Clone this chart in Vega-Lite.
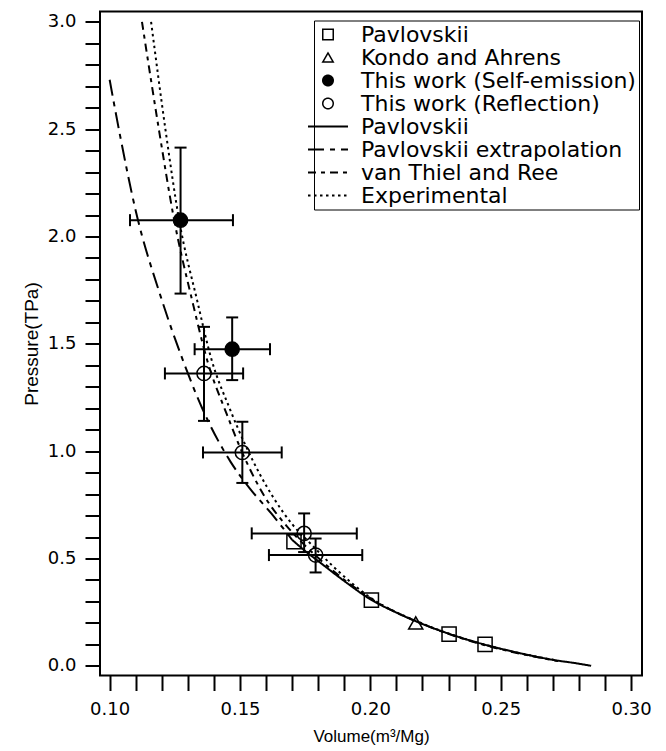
{
  "$schema": "https://vega.github.io/schema/vega-lite/v6.json",
  "width": 542,
  "height": 664,
  "autosize": {"type": "none"},
  "padding": {"left": 100, "top": 11.5, "right": 24, "bottom": 75.5},
  "background": "white",
  "config": {"view": {"stroke": "black", "strokeWidth": 2}, "font": "DejaVu Sans"},
  "datasets": {
    "points": [
      {"series": "Pavlovskii (data)", "x": 0.1707, "y": 0.578},
      {"series": "Pavlovskii (data)", "x": 0.2004, "y": 0.306},
      {"series": "Pavlovskii (data)", "x": 0.2302, "y": 0.148},
      {"series": "Pavlovskii (data)", "x": 0.2440, "y": 0.100},
      {"series": "Kondo and Ahrens", "x": 0.2174, "y": 0.200},
      {"series": "This work (Self-emission)", "x": 0.1272, "y": 2.076},
      {"series": "This work (Self-emission)", "x": 0.1470, "y": 1.475},
      {"series": "This work (Reflection)", "x": 0.1362, "y": 1.362},
      {"series": "This work (Reflection)", "x": 0.1509, "y": 0.994},
      {"series": "This work (Reflection)", "x": 0.1746, "y": 0.617},
      {"series": "This work (Reflection)", "x": 0.1790, "y": 0.516}
    ],
    "errors": [
      {"x": 0.1272, "y": 2.076, "xlo": 0.1078, "xhi": 0.1473, "ylo": 1.734, "yhi": 2.414},
      {"x": 0.1470, "y": 1.475, "xlo": 0.1326, "xhi": 0.1615, "ylo": 1.331, "yhi": 1.623},
      {"x": 0.1362, "y": 1.362, "xlo": 0.1212, "xhi": 0.1512, "ylo": 1.141, "yhi": 1.579},
      {"x": 0.1509, "y": 0.994, "xlo": 0.1358, "xhi": 0.1660, "ylo": 0.852, "yhi": 1.137},
      {"x": 0.1746, "y": 0.617, "xlo": 0.1545, "xhi": 0.1948, "ylo": 0.530, "yhi": 0.710},
      {"x": 0.1790, "y": 0.516, "xlo": 0.1611, "xhi": 0.1969, "ylo": 0.435, "yhi": 0.593}
    ],
    "lines": [
      {"series": "Pavlovskii", "x": 0.170, "y": 0.587},
      {"series": "Pavlovskii", "x": 0.175, "y": 0.535},
      {"series": "Pavlovskii", "x": 0.180, "y": 0.488},
      {"series": "Pavlovskii", "x": 0.190, "y": 0.395},
      {"series": "Pavlovskii", "x": 0.200, "y": 0.310},
      {"series": "Pavlovskii", "x": 0.210, "y": 0.248},
      {"series": "Pavlovskii", "x": 0.220, "y": 0.195},
      {"series": "Pavlovskii", "x": 0.230, "y": 0.150},
      {"series": "Pavlovskii", "x": 0.240, "y": 0.112},
      {"series": "Pavlovskii", "x": 0.250, "y": 0.080},
      {"series": "Pavlovskii", "x": 0.260, "y": 0.052},
      {"series": "Pavlovskii", "x": 0.270, "y": 0.028},
      {"series": "Pavlovskii", "x": 0.280, "y": 0.010},
      {"series": "Pavlovskii", "x": 0.2847, "y": 0.000},
      {"series": "Pavlovskii extrapolation", "x": 0.100, "y": 2.73},
      {"series": "Pavlovskii extrapolation", "x": 0.104, "y": 2.47},
      {"series": "Pavlovskii extrapolation", "x": 0.110, "y": 2.12},
      {"series": "Pavlovskii extrapolation", "x": 0.1196, "y": 1.72},
      {"series": "Pavlovskii extrapolation", "x": 0.1279, "y": 1.43},
      {"series": "Pavlovskii extrapolation", "x": 0.1355, "y": 1.20},
      {"series": "Pavlovskii extrapolation", "x": 0.1464, "y": 0.95},
      {"series": "Pavlovskii extrapolation", "x": 0.1535, "y": 0.83},
      {"series": "Pavlovskii extrapolation", "x": 0.162, "y": 0.71},
      {"series": "Pavlovskii extrapolation", "x": 0.170, "y": 0.587},
      {"series": "van Thiel and Ree", "x": 0.1124, "y": 3.0},
      {"series": "van Thiel and Ree", "x": 0.119, "y": 2.49},
      {"series": "van Thiel and Ree", "x": 0.1247, "y": 2.08},
      {"series": "van Thiel and Ree", "x": 0.1317, "y": 1.70},
      {"series": "van Thiel and Ree", "x": 0.1375, "y": 1.42},
      {"series": "van Thiel and Ree", "x": 0.145, "y": 1.17},
      {"series": "van Thiel and Ree", "x": 0.151, "y": 0.99},
      {"series": "van Thiel and Ree", "x": 0.1599, "y": 0.78},
      {"series": "van Thiel and Ree", "x": 0.168, "y": 0.65},
      {"series": "van Thiel and Ree", "x": 0.175, "y": 0.56},
      {"series": "van Thiel and Ree", "x": 0.185, "y": 0.45},
      {"series": "van Thiel and Ree", "x": 0.200, "y": 0.315},
      {"series": "van Thiel and Ree", "x": 0.220, "y": 0.195},
      {"series": "van Thiel and Ree", "x": 0.240, "y": 0.110},
      {"series": "van Thiel and Ree", "x": 0.260, "y": 0.050},
      {"series": "van Thiel and Ree", "x": 0.272, "y": 0.022},
      {"series": "Experimental", "x": 0.1159, "y": 3.0},
      {"series": "Experimental", "x": 0.1215, "y": 2.49},
      {"series": "Experimental", "x": 0.1266, "y": 2.08},
      {"series": "Experimental", "x": 0.1336, "y": 1.70},
      {"series": "Experimental", "x": 0.139, "y": 1.43},
      {"series": "Experimental", "x": 0.146, "y": 1.20},
      {"series": "Experimental", "x": 0.152, "y": 1.03},
      {"series": "Experimental", "x": 0.163, "y": 0.78},
      {"series": "Experimental", "x": 0.170, "y": 0.66},
      {"series": "Experimental", "x": 0.177, "y": 0.57},
      {"series": "Experimental", "x": 0.186, "y": 0.46},
      {"series": "Experimental", "x": 0.200, "y": 0.318},
      {"series": "Experimental", "x": 0.220, "y": 0.197},
      {"series": "Experimental", "x": 0.240, "y": 0.112},
      {"series": "Experimental", "x": 0.260, "y": 0.052},
      {"series": "Experimental", "x": 0.272, "y": 0.024}
    ]
  },
  "layer": [
    {
      "data": {"name": "lines"},
      "mark": {"type": "line", "strokeWidth": 2, "clip": true, "interpolate": "monotone", "color": "black"},
      "encoding": {
        "x": {"field": "x", "type": "quantitative",
          "scale": {"domain": [0.0963, 0.3042], "nice": false, "zero": false},
          "axis": {"orient": "bottom", "tickCount": 200, "values": [0.1,0.11,0.12,0.13,0.14,0.15,0.16,0.17,0.18,0.19,0.2,0.21,0.22,0.23,0.24,0.25,0.26,0.27,0.28,0.29,0.3],
            "format": ".2f", "labelExpr": "indexof(['0.10','0.15','0.20','0.25','0.30'], datum.label) >= 0 ? datum.label : ''",
            "labelOverlap": false, "labelFlush": false, "grid": false, "domain": false,
            "tickSize": 15, "tickWidth": 2, "tickColor": "black",
            "labelFont": "DejaVu Sans", "labelFontSize": 18, "labelColor": "black", "labelPadding": 10,
            "title": "Volume(m³/Mg)", "titleFont": "Liberation Sans", "titleFontSize": 17, "titleFontWeight": "normal", "titleColor": "black", "titlePadding": 10,
            "encode": {"ticks": {"update": {"y2": {"signal": "indexof([0.1,0.15,0.2,0.25,0.3], datum.value) >= 0 ? 15 : 8"}}}}}},
        "y": {"field": "y", "type": "quantitative",
          "scale": {"domain": [-0.045, 3.048], "nice": false, "zero": false},
          "axis": {"orient": "left", "tickCount": 200, "values": [0,0.1,0.2,0.3,0.4,0.5,0.6,0.7,0.8,0.9,1,1.1,1.2,1.3,1.4,1.5,1.6,1.7,1.8,1.9,2,2.1,2.2,2.3,2.4,2.5,2.6,2.7,2.8,2.9,3],
            "format": ".1f", "labelExpr": "indexof(['0.0','0.5','1.0','1.5','2.0','2.5','3.0'], datum.label) >= 0 ? datum.label : ''",
            "labelOverlap": false, "labelFlush": false, "grid": false, "domain": false,
            "tickSize": 15, "tickWidth": 2, "tickColor": "black",
            "labelFont": "DejaVu Sans", "labelFontSize": 18, "labelColor": "black", "labelPadding": 9,
            "title": "Pressure(TPa)", "titleFont": "Liberation Sans", "titleFontSize": 19, "titleFontWeight": "normal", "titleColor": "black", "titlePadding": 6,
            "encode": {"ticks": {"update": {"x2": {"signal": "indexof([0,0.5,1,1.5,2,2.5,3], datum.value) >= 0 ? -15 : -8"}}}}}},
        "strokeDash": {"field": "series", "type": "nominal",
          "scale": {"domain": ["Pavlovskii (data)", "Kondo and Ahrens", "This work (Self-emission)", "This work (Reflection)", "Pavlovskii", "Pavlovskii extrapolation", "van Thiel and Ree", "Experimental"],
            "range": [[1,0],[1,0],[1,0],[1,0],[1,0],[16,6,5,6],[8,5,4,5],[2.5,3.5]]},
          "legend": {"title": null, "orient": "none", "legendX": 214, "legendY": 9,
            "strokeColor": "black", "fillColor": "white", "padding": 3,
            "labelFont": "DejaVu Sans", "labelFontSize": 22, "labelColor": "black", "labelOffset": 22, "labelLimit": 400,
            "rowPadding": 1, "symbolSize": 1600, "symbolStrokeColor": "black", "symbolStrokeWidth": 1.5,
            "labelExpr": "datum.label === 'Pavlovskii (data)' ? 'Pavlovskii' : datum.label",
            "encode": {"symbols": {"update": {
              "size": {"signal": "indexof(['Pavlovskii','Pavlovskii extrapolation','van Thiel and Ree','Experimental'], datum.value) >= 0 ? 1600 : 110"},
              "strokeWidth": {"signal": "indexof(['Pavlovskii','Pavlovskii extrapolation','van Thiel and Ree','Experimental'], datum.value) >= 0 ? 2 : 1.5"},
              "fill": {"signal": "datum.value === 'This work (Self-emission)' ? 'black' : 'transparent'"},
              "stroke": {"value": "black"}}}}}}
      }
    },
    {
      "data": {"name": "errors"},
      "mark": {"type": "rule", "strokeWidth": 2, "color": "black"},
      "encoding": {
        "x": {"field": "xlo", "type": "quantitative"},
        "x2": {"field": "xhi"},
        "y": {"field": "y", "type": "quantitative"}
      }
    },
    {
      "data": {"name": "errors"},
      "mark": {"type": "rule", "strokeWidth": 2, "color": "black"},
      "encoding": {
        "x": {"field": "x", "type": "quantitative"},
        "y": {"field": "ylo", "type": "quantitative"},
        "y2": {"field": "yhi"}
      }
    },
    {
      "data": {"name": "errors"},
      "mark": {"type": "tick", "orient": "vertical", "size": 12, "thickness": 2, "color": "black", "opacity": 1},
      "encoding": {
        "x": {"field": "xlo", "type": "quantitative"},
        "y": {"field": "y", "type": "quantitative"}
      }
    },
    {
      "data": {"name": "errors"},
      "mark": {"type": "tick", "orient": "vertical", "size": 12, "thickness": 2, "color": "black", "opacity": 1},
      "encoding": {
        "x": {"field": "xhi", "type": "quantitative"},
        "y": {"field": "y", "type": "quantitative"}
      }
    },
    {
      "data": {"name": "errors"},
      "mark": {"type": "tick", "orient": "horizontal", "size": 12, "thickness": 2, "color": "black", "opacity": 1},
      "encoding": {
        "x": {"field": "x", "type": "quantitative"},
        "y": {"field": "ylo", "type": "quantitative"}
      }
    },
    {
      "data": {"name": "errors"},
      "mark": {"type": "tick", "orient": "horizontal", "size": 12, "thickness": 2, "color": "black", "opacity": 1},
      "encoding": {
        "x": {"field": "x", "type": "quantitative"},
        "y": {"field": "yhi", "type": "quantitative"}
      }
    },
    {
      "data": {"name": "points"},
      "mark": {"type": "point", "size": 200, "strokeWidth": 1.5, "color": "black", "opacity": 1},
      "encoding": {
        "x": {"field": "x", "type": "quantitative"},
        "y": {"field": "y", "type": "quantitative"},
        "fill": {"condition": {"test": "datum.series === 'This work (Self-emission)'", "value": "black"}, "value": "transparent"},
        "shape": {"field": "series", "type": "nominal",
          "scale": {"domain": ["Pavlovskii (data)", "Kondo and Ahrens", "This work (Self-emission)", "This work (Reflection)", "Pavlovskii", "Pavlovskii extrapolation", "van Thiel and Ree", "Experimental"],
            "range": ["square", "triangle-up", "circle", "circle", "stroke", "stroke", "stroke", "stroke"]},
          "legend": {"title": null, "orient": "none", "legendX": 214, "legendY": 9,
            "strokeColor": "black", "fillColor": "white", "padding": 3,
            "labelFont": "DejaVu Sans", "labelFontSize": 22, "labelColor": "black", "labelOffset": 22, "labelLimit": 400,
            "rowPadding": 1, "symbolSize": 1600, "symbolStrokeColor": "black", "symbolStrokeWidth": 1.5,
            "labelExpr": "datum.label === 'Pavlovskii (data)' ? 'Pavlovskii' : datum.label",
            "encode": {"symbols": {"update": {
              "size": {"signal": "indexof(['Pavlovskii','Pavlovskii extrapolation','van Thiel and Ree','Experimental'], datum.value) >= 0 ? 1600 : 110"},
              "strokeWidth": {"signal": "indexof(['Pavlovskii','Pavlovskii extrapolation','van Thiel and Ree','Experimental'], datum.value) >= 0 ? 2 : 1.5"},
              "fill": {"signal": "datum.value === 'This work (Self-emission)' ? 'black' : 'transparent'"},
              "stroke": {"value": "black"}}}}}}
      }
    }
  ]
}
